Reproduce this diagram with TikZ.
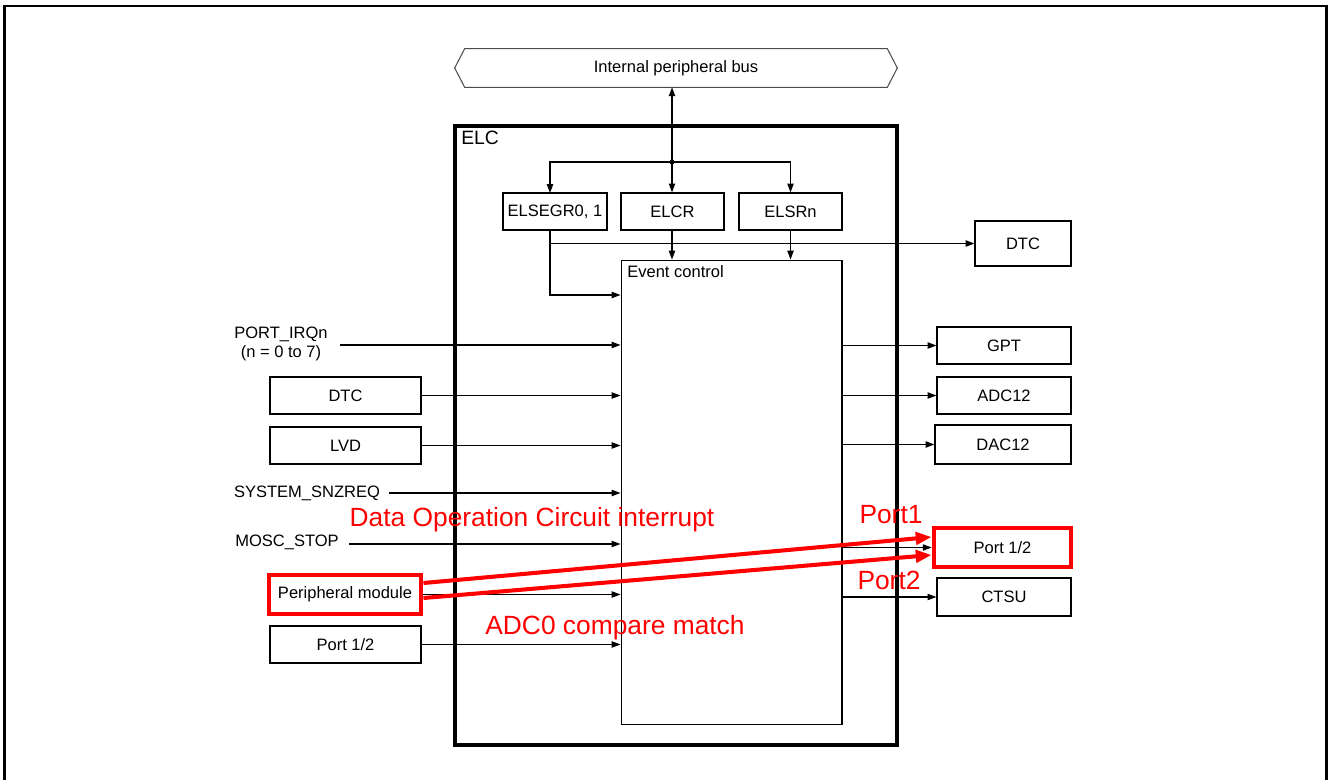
\documentclass[tikz,border=0pt]{standalone}
\usepackage{fontspec}
\setmainfont{Liberation Sans}
\usetikzlibrary{arrows.meta}

\tikzset{
  box/.style={draw, line width=0.7pt, inner sep=0pt, font=\fontsize{9.4}{11}\selectfont},
  lbl/.style={inner sep=0pt, font=\fontsize{9.4}{11}\selectfont},
  arr/.style={-{Triangle[length=5pt,width=3.6pt]}, line width=0.6pt},
  redbox/.style={box, draw=red, line width=2.8pt},
  redarr/.style={-{Triangle[length=9pt,width=7pt]}, draw=red, line width=2.3pt},
  redlbl/.style={inner sep=0pt, text=red, font=\fontsize{15}{18}\selectfont}
}

\begin{document}
\begin{tikzpicture}[x=0.02cm, y=-0.02cm]
        \useasboundingbox (0,0) rectangle (1328,780);

        % Outer frame
        \draw[line width=1.3pt] (4.5,830) -- (4.5,6) -- (1326.5,6) -- (1326.5,830);

        % Internal peripheral bus
        \node[lbl, minimum width=8.84cm, minimum height=0.76cm] (bus) at (676,68) {Internal peripheral bus};
        \draw[line width=0.6pt, draw=black!70] (bus.west) -- ([xshift=0.2cm]bus.north west) -- ([xshift=-0.2cm]bus.north east)
            -- (bus.east) -- ([xshift=-0.2cm]bus.south east) -- ([xshift=0.2cm]bus.south west) -- cycle;

        % ELC block
        \draw[line width=2pt] (455,126) rectangle (897,745);
        \node[anchor=north west, inner sep=0pt, font=\fontsize{11}{13}\selectfont] (elc) at (461,131) {ELC};

        % Registers
        \node[box, minimum width=2.08cm, minimum height=0.74cm] (elsegr) at (555,211.5) {ELSEGR0, 1};
        \node[box, minimum width=2.06cm, minimum height=0.74cm] (elcr) at (672.5,211.5) {ELCR};
        \node[box, minimum width=2.06cm, minimum height=0.74cm] (elsrn) at (790.5,211.5) {ELSRn};

        % Event control
        \node[draw, line width=0.6pt, minimum width=4.42cm, minimum height=9.3cm] (ev) at (731.5,492.5) {};
        \node[lbl, anchor=north west] (evl) at (627,265) {Event control};

        % Bus connection
        \coordinate (jn) at (672,162);
        \coordinate (egt) at (550,193);
        \coordinate (egb) at (550,230);
        \fill (jn) circle (2.5);
        \draw[arr] (jn) -- (jn |- bus.south);
        \draw[arr] (jn) -| (egt);
        \draw[arr] (jn) -- (jn |- elcr.north);
        \draw[arr] (jn) -| (elsrn.north);

        % Output blocks
        \node[box, minimum width=1.92cm, minimum height=0.9cm] (dtco) at (1023,243.5) {DTC};
        \node[box, minimum width=2.68cm, minimum height=0.74cm] (gpt) at (1004,345.5) {GPT};
        \node[box, minimum width=2.68cm, minimum height=0.74cm] (adc) at (1004,395.5) {ADC12};
        \node[box, minimum width=2.72cm, minimum height=0.78cm] (dac) at (1003,444.5) {DAC12};
        \node[redbox, minimum width=2.74cm, minimum height=0.78cm] (porto) at (1002.5,547.5) {Port 1/2};
        \node[box, minimum width=2.68cm, minimum height=0.76cm] (ctsu) at (1004,597) {CTSU};

        % Register outputs
        \draw[arr] (egb) |- (ev.west |- 0,295);
        \draw[arr] (egb |- dtco) -- (dtco.west);
        \draw[arr] (jn |- elcr.south) -- (jn |- ev.north);
        \draw[arr] (elsrn.south) -- (elsrn.south |- ev.north);

        % Event outputs
        \foreach \n in {gpt, adc, dac, porto, ctsu}
            \draw[arr] (ev.east |- \n) -- (\n.west);

        % Inputs
        \node[lbl, align=center] (irq) at (281,344) {PORT\_IRQn\\(n = 0 to 7)};
        \node[box, minimum width=3.02cm, minimum height=0.74cm] (dtci) at (345.5,395.5) {DTC};
        \node[box, minimum width=3.02cm, minimum height=0.74cm] (lvd) at (345.5,445.5) {LVD};
        \node[lbl] (snz) at (307,493) {SYSTEM\_SNZREQ};
        \node[lbl] (mosc) at (287,542) {MOSC\_STOP};
        \node[redbox, minimum width=3.04cm, minimum height=0.78cm] (peri) at (345,594.5) {Peripheral module};
        \node[box, minimum width=3.02cm, minimum height=0.74cm] (porti) at (345.5,644.5) {Port 1/2};

        \draw[arr] ([xshift=0.24cm]irq.east |- 0,345) -- (ev.west |- 0,345);
        \draw[arr] ([xshift=0.18cm]snz.east) -- (ev.west |- snz);
        \draw[arr] ([xshift=0.2cm]mosc.east |- 0,544) -- (ev.west |- 0,544);
        \foreach \n in {dtci, lvd, peri, porti}
            \draw[arr] (\n.east) -- (ev.west |- \n);

        % Red annotations
        \draw[redarr] ([yshift=0.23cm]peri.east) -- ([yshift=0.21cm]porto.west);
        \draw[redarr] ([yshift=-0.07cm]peri.east) -- ([yshift=-0.15cm]porto.west);
        \node[redlbl] (doc) at (532,520) {Data Operation Circuit interrupt};
        \node[redlbl] (p1) at (891,515) {Port1};
        \node[redlbl] (p2) at (889,580) {Port2};
        \node[redlbl] (adcm) at (615,628) {ADC0 compare match};

    \end{tikzpicture}
\end{document}
